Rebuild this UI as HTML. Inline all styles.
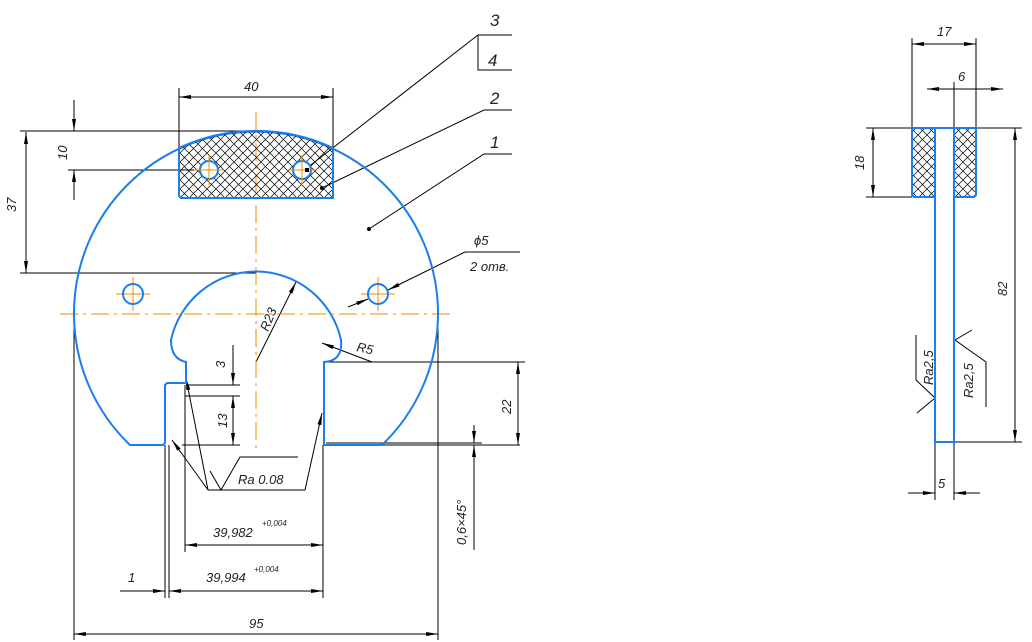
<!DOCTYPE html>
<html><head><meta charset="utf-8"><style>
html,body{margin:0;padding:0;background:#fff;}
svg{display:block}
text{font-family:"Liberation Sans",sans-serif;font-style:italic;font-size:13px;fill:#222}
</style></head><body>
<svg width="1032" height="642" viewBox="0 0 1032 642" xmlns="http://www.w3.org/2000/svg">
<defs>
<pattern id="h" width="9" height="9" patternUnits="userSpaceOnUse">
<path d="M0,0L9,9M9,0L0,9" stroke="#000" stroke-width="0.7"/>
</pattern>
<marker id="a" viewBox="0 0 12 4" refX="12" refY="2" markerWidth="12" markerHeight="4" markerUnits="userSpaceOnUse" orient="auto-start-reverse">
<path d="M0,0L12,2L0,4z" fill="#000"/>
</marker>
</defs>
<g stroke="#000" stroke-width="1" fill="none">
<path d="M74,314V640M438,314V640M20,131H258M68,170H200M20,273H256M179,88V148M333,88V148"/>
<path d="M165,445V598M169,445V598M185,385V552M323,445V598M186,385H240M185,396H240M182,445H240M323,362H525M323,445H520M326,443H482"/>
<path d="M74,634H438" marker-start="url(#a)" marker-end="url(#a)"/>
<path d="M169,591H323" marker-start="url(#a)" marker-end="url(#a)"/>
<path d="M120,591H165" marker-end="url(#a)"/>
<path d="M185,545H323" marker-start="url(#a)" marker-end="url(#a)"/>
<path d="M179,97H333" marker-start="url(#a)" marker-end="url(#a)"/>
<path d="M74,100V131" marker-end="url(#a)"/><path d="M74,200V170" marker-end="url(#a)"/>
<path d="M26,132V273" marker-start="url(#a)" marker-end="url(#a)"/>
<path d="M233,345V385" marker-end="url(#a)"/>
<path d="M233,396V445" marker-start="url(#a)" marker-end="url(#a)"/>
<path d="M518,362V445" marker-start="url(#a)" marker-end="url(#a)"/>
<path d="M474,425V443" marker-end="url(#a)"/><path d="M474,465V445" marker-end="url(#a)"/><path d="M474,465V550"/>
<path d="M208,490H305M210,471L221,490L240,457H298"/>
<path d="M208,490L172,440" marker-end="url(#a)"/>
<path d="M208,490L186,378" marker-end="url(#a)"/>
<path d="M305,490L322,413" marker-end="url(#a)"/>
<path d="M256,362L296,282" marker-end="url(#a)"/>
<path d="M372,362L322,343" marker-end="url(#a)"/>
<path d="M520,252H465L388,290" marker-end="url(#a)"/>
<path d="M348,307L368,299" marker-end="url(#a)"/>
<path d="M512,35H478V70H512M478,35L307,168"/>
<path d="M512,110H484L322,188"/>
<path d="M512,154H484L369,229"/>
</g>
<rect x="304" y="165" width="5" height="5" fill="#000"/>
<circle cx="322" cy="188" r="2" fill="#000"/>
<circle cx="369" cy="229" r="2" fill="#000"/>
<g stroke="#f28a00" stroke-width="1" fill="none">
<path d="M60,314H452" stroke-dasharray="18,5,3,5"/>
<path d="M256,112V452" stroke-dasharray="18,5,3,5"/>
<path d="M116,294H150M133,277V311M361,294H395M378,277V311"/>
</g>
<g stroke="#1a7fe8" stroke-width="2" fill="none">
<path d="M130,445A182,182 0 1 1 382,445H324V362Q343,361 341,340A87,87 0 0 0 171,340Q171,359 186,362V383H167L165,385V443L163,445Z"/>
<path d="M179,148A182,182 0 0 1 333,148V198H181L179,196Z" fill="url(#h)"/>
<circle cx="209" cy="170" r="9" fill="#fff"/>
<circle cx="302" cy="170" r="9" fill="#fff"/>
<circle cx="133" cy="294" r="10"/>
<circle cx="378" cy="294" r="10"/>
</g>
<g stroke="#f28a00" stroke-width="1"><path d="M194,170H224M209,155V185M287,170H317M302,155V185"/></g>
<path d="M309,168H305V172H309Z" fill="#000"/>
<g stroke="#000" stroke-width="1" fill="none">
<path d="M912,38V128M976,38V128M954,82V128M866,128H1022M866,197H912M954,442H1022M935,442V500M954,442V500"/>
<path d="M912,44H976" marker-start="url(#a)" marker-end="url(#a)"/>
<path d="M927,89H954" marker-start="url(#a)"/><path d="M1003,89H954" marker-start="url(#a)"/>
<path d="M873,128V197" marker-start="url(#a)" marker-end="url(#a)"/>
<path d="M1015,128V442" marker-start="url(#a)" marker-end="url(#a)"/>
<path d="M908,493H935" marker-end="url(#a)"/><path d="M980,493H954" marker-end="url(#a)"/>
<path d="M916,335V380L935,398M917,413L935,398"/>
<path d="M972,330L955,340L986,362V407"/>
</g>
<g stroke="#1a7fe8" stroke-width="2">
<path d="M912,128H935V197H914L912,195Z" fill="url(#h)"/>
<path d="M954,128H976V195L974,197H954Z" fill="url(#h)"/>
<path d="M912,128H976M935,128V442H954V128" fill="none"/>
</g>
<text x="244" y="91">40</text>
<text x="249" y="628">95</text>
<text x="206" y="582">39,994</text><text x="254" y="572" style="font-size:8px">+0,004</text>
<text x="213" y="537">39,982</text><text x="262" y="526" style="font-size:8px">+0,004</text>
<text x="128" y="582">1</text>
<text x="238" y="484">Ra 0.08</text>
<text x="356" y="351" transform="rotate(12 356 351)">R5</text>
<text x="0" y="0" transform="translate(268,332) rotate(-68)">R23</text>
<text x="0" y="0" transform="translate(225,368) rotate(-90)">3</text>
<text x="0" y="0" transform="translate(227,428) rotate(-90)">13</text>
<text x="0" y="0" transform="translate(511,414) rotate(-90)">22</text>
<text x="0" y="0" transform="translate(466,545) rotate(-90)">0,6×45°</text>
<text x="0" y="0" transform="translate(67,160) rotate(-90)">10</text>
<text x="0" y="0" transform="translate(16,212) rotate(-90)">37</text>
<text x="474" y="245">ϕ5</text>
<text x="470" y="271">2 отв.</text>
<text x="490" y="26" style="font-size:17px">3</text>
<text x="488" y="66" style="font-size:17px">4</text>
<text x="490" y="104" style="font-size:17px">2</text>
<text x="490" y="148" style="font-size:17px">1</text>
<text x="937" y="36">17</text>
<text x="958" y="81">6</text>
<text x="0" y="0" transform="translate(864,170) rotate(-90)">18</text>
<text x="0" y="0" transform="translate(1007,296) rotate(-90)">82</text>
<text x="938" y="488">5</text>
<text x="0" y="0" transform="translate(933,385) rotate(-90)">Ra2,5</text>
<text x="0" y="0" transform="translate(973,398) rotate(-90)">Ra2,5</text>
</svg>
</body></html>
